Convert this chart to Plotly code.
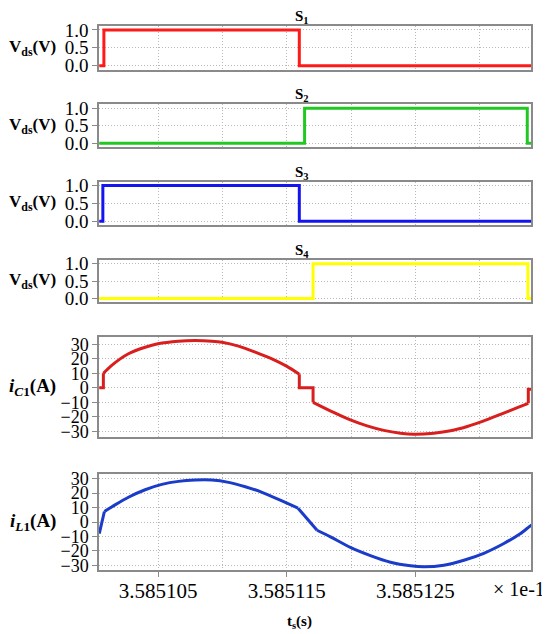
import plotly.graph_objects as go

# time axis (x 1e-1 s)
t_start = 3.5851004
t_end = 3.5851340
x_tick_step = 1e-5
x_grid_step = 5e-6

# switch gate signals (step points, held until next point)
s1_t = [3.58510042, 3.58510078, 3.58511598, 3.58513405]
s1_v = [0, 1, 0, 0]
s2_t = [3.58510042, 3.58511639, 3.58513371, 3.58513405]
s2_v = [0, 1, 0, 0]
s3_t = [3.58510042, 3.58510070, 3.58511598, 3.58513405]
s3_v = [0, 1, 0, 0]
s4_t = [3.58510042, 3.58511705, 3.58513376, 3.58513405]
s4_v = [0, 1, 0, 0]

# capacitor current iC1
ic1_t = [3.58510042, 3.58510074, 3.58510074, 3.58510139, 3.58510269, 3.58510399,
         3.58510498, 3.58510658, 3.58510788, 3.58510918, 3.58510996, 3.58511125,
         3.58511255, 3.58511385, 3.58511502, 3.58511598, 3.58511598, 3.58511705,
         3.58511705, 3.58511865, 3.58511995, 3.58512125, 3.58512255, 3.58512385,
         3.58512488, 3.58512644, 3.58512774, 3.58512904, 3.58513033, 3.58513163,
         3.58513294, 3.58513379, 3.58513379, 3.58513405]
ic1_v = [0, 0, 10, 15.5, 23.5, 28,
         30.4, 32.2, 32.6, 32.2, 31.5, 28.8,
         24.7, 20, 14.8, 9.4, 0, 0,
         -10, -17, -22.2, -26.3, -29.4, -31.3,
         -32, -31.3, -29.7, -26.7, -22.8, -18.3,
         -13.7, -10.7, -1, -1]

# inductor current iL1
il1_t = [3.58510042, 3.58510082, 3.58510165, 3.58510269, 3.58510399, 3.58510529,
         3.58510658, 3.58510788, 3.58510918, 3.58511048, 3.58511178, 3.58511308,
         3.58511463, 3.58511588, 3.58511684, 3.58511736, 3.58511840, 3.58511995,
         3.58512151, 3.58512307, 3.58512463, 3.58512566, 3.58512722, 3.58512878,
         3.58513033, 3.58513189, 3.58513319, 3.58513384, 3.58513405]
il1_v = [-8, 7.3, 11.9, 17.2, 22.4, 26.1,
         28.2, 29.1, 29.1, 27.5, 24.5, 20.6,
         14.6, 9.6, -0.5, -5.7, -10.3, -17.6,
         -23.3, -27.9, -30.4, -31.1, -30, -26.5,
         -21.7, -14.9, -8, -3.4, -2]

vds_ticks = [0, 0.5, 1.0]
vds_labels = ['0.0', '0.5', '1.0']
i_ticks = [-30, -20, -10, 0, 10, 20, 30]

font = 'Liberation Serif'
frame_col = '#8a8a8a'
grid_col = '#b8b8b8'
grid_dash = '1px,2px'

# (start, stop, shape) pieces: smooth arcs as splines, switching edges straight
ic1_pieces = [(0, 3, 'linear'), (2, 16, 'spline'), (15, 19, 'linear'),
              (18, 32, 'spline'), (31, 34, 'linear')]
il1_pieces = [(0, 2, 'linear'), (1, 14, 'spline'), (13, 16, 'linear'), (15, 29, 'spline')]

panels = [
    dict(t=s1_t, v=s1_v, color='#ff1a1a', pieces=[(0, 4, 'hv')], dom=[0.9199, 1.0], rng=[-0.11, 1.11], name='S<sub>1</sub>'),
    dict(t=s2_t, v=s2_v, color='#22c822', pieces=[(0, 4, 'hv')], dom=[0.7772, 0.8561], rng=[-0.11, 1.11], name='S<sub>2</sub>'),
    dict(t=s3_t, v=s3_v, color='#1414f0', pieces=[(0, 4, 'hv')], dom=[0.6339, 0.7140], rng=[-0.11, 1.11], name='S<sub>3</sub>'),
    dict(t=s4_t, v=s4_v, color='#ffff00', pieces=[(0, 4, 'hv')], dom=[0.4918, 0.5701], rng=[-0.11, 1.11], name='S<sub>4</sub>'),
    dict(t=ic1_t, v=ic1_v, color='#d91e1e', pieces=ic1_pieces, dom=[0.2441, 0.4281], rng=[-34.1, 35], name=None),
    dict(t=il1_t, v=il1_v, color='#1a3cc8', pieces=il1_pieces, dom=[0.0, 0.1767], rng=[-33.3, 33.4], name=None),
]

fig = go.Figure()
# page body adds 8px, so the figure is 8px smaller than the window
layout = dict(
    width=542, height=626,
    margin=dict(l=91, r=19, t=13, b=64),
    plot_bgcolor='white', paper_bgcolor='white',
    showlegend=False, hovermode=False,
    font=dict(family=font, color='black'),
)
annotations = []

for i, p in enumerate(panels):
    n = '' if i == 0 else str(i + 1)
    for a, b, shape in p['pieces']:
        line = dict(color=p['color'], width=3, shape=shape)
        if shape == 'spline':
            line['smoothing'] = 0.7
        fig.add_trace(go.Scatter(x=p['t'][a:b], y=p['v'][a:b], mode='lines', line=line,
                                 xaxis='x' + n, yaxis='y' + n))
    last = i == len(panels) - 1
    layout['xaxis' + n] = dict(
        domain=[0, 1], anchor='y' + n, range=[t_start, t_end],
        tick0=3.585105, dtick=x_tick_step, tickformat='.6f',
        showticklabels=last, ticks='outside' if last else '', ticklen=5,
        tickcolor=frame_col, tickfont=dict(size=21, family=font), ticklabelstandoff=-4,
        showgrid=True, gridcolor=grid_col, griddash=grid_dash, gridwidth=1,
        minor=dict(tick0=3.5851, dtick=x_grid_step, showgrid=True,
                   gridcolor=grid_col, griddash=grid_dash, gridwidth=1, ticks=''),
        showline=True, mirror=True, linecolor=frame_col, linewidth=1.5, zeroline=False,
    )
    if i < 4:
        yt = dict(tickvals=vds_ticks, ticktext=vds_labels, tickfont=dict(size=19, family=font))
    else:
        yt = dict(tickvals=i_ticks, tickfont=dict(size=18, family=font))
    layout['yaxis' + n] = dict(
        domain=p['dom'], anchor='x' + n, range=p['rng'],
        ticks='outside', ticklen=5, tickcolor=frame_col,
        showgrid=True, gridcolor=grid_col, griddash=grid_dash, gridwidth=1,
        showline=True, mirror=True, linecolor=frame_col, linewidth=1.5, zeroline=False,
        **yt
    )
    mid = (p['dom'][0] + p['dom'][1]) / 2
    if i < 4:
        ytitle = '<b>V<sub>ds</sub>(V)</b>'
        tsize = 17
        annotations.append(dict(text='<b>' + p['name'] + '</b>', xref='paper', yref='paper',
                                x=0.47, y=p['dom'][1], xanchor='center', yanchor='bottom',
                                yshift=-2, showarrow=False, font=dict(size=15, family=font)))
    elif i == 4:
        ytitle = '<b><i>i</i><sub><i>C</i>1</sub>(A)</b>'
        tsize = 19
    else:
        ytitle = '<b><i>i</i><sub><i>L</i>1</sub>(A)</b>'
        tsize = 19
    annotations.append(dict(text=ytitle, xref='paper', yref='paper', x=-0.095, y=mid,
                            xanchor='right', yanchor='middle', showarrow=False,
                            font=dict(size=tsize, family=font)))

annotations.append(dict(text='× 1e-1', xref='paper', yref='paper', x=1.037, y=-0.0346,
                        xanchor='right', yanchor='middle', showarrow=False,
                        font=dict(size=20, family=font)))
annotations.append(dict(text='<b>t<sub>s</sub>(s)</b>', xref='paper', yref='paper', x=0.465, y=-0.0947,
                        xanchor='center', yanchor='middle', showarrow=False,
                        font=dict(size=15, family=font)))
layout['annotations'] = annotations

fig.update_layout(**layout)
fig.write_html('out.html')
